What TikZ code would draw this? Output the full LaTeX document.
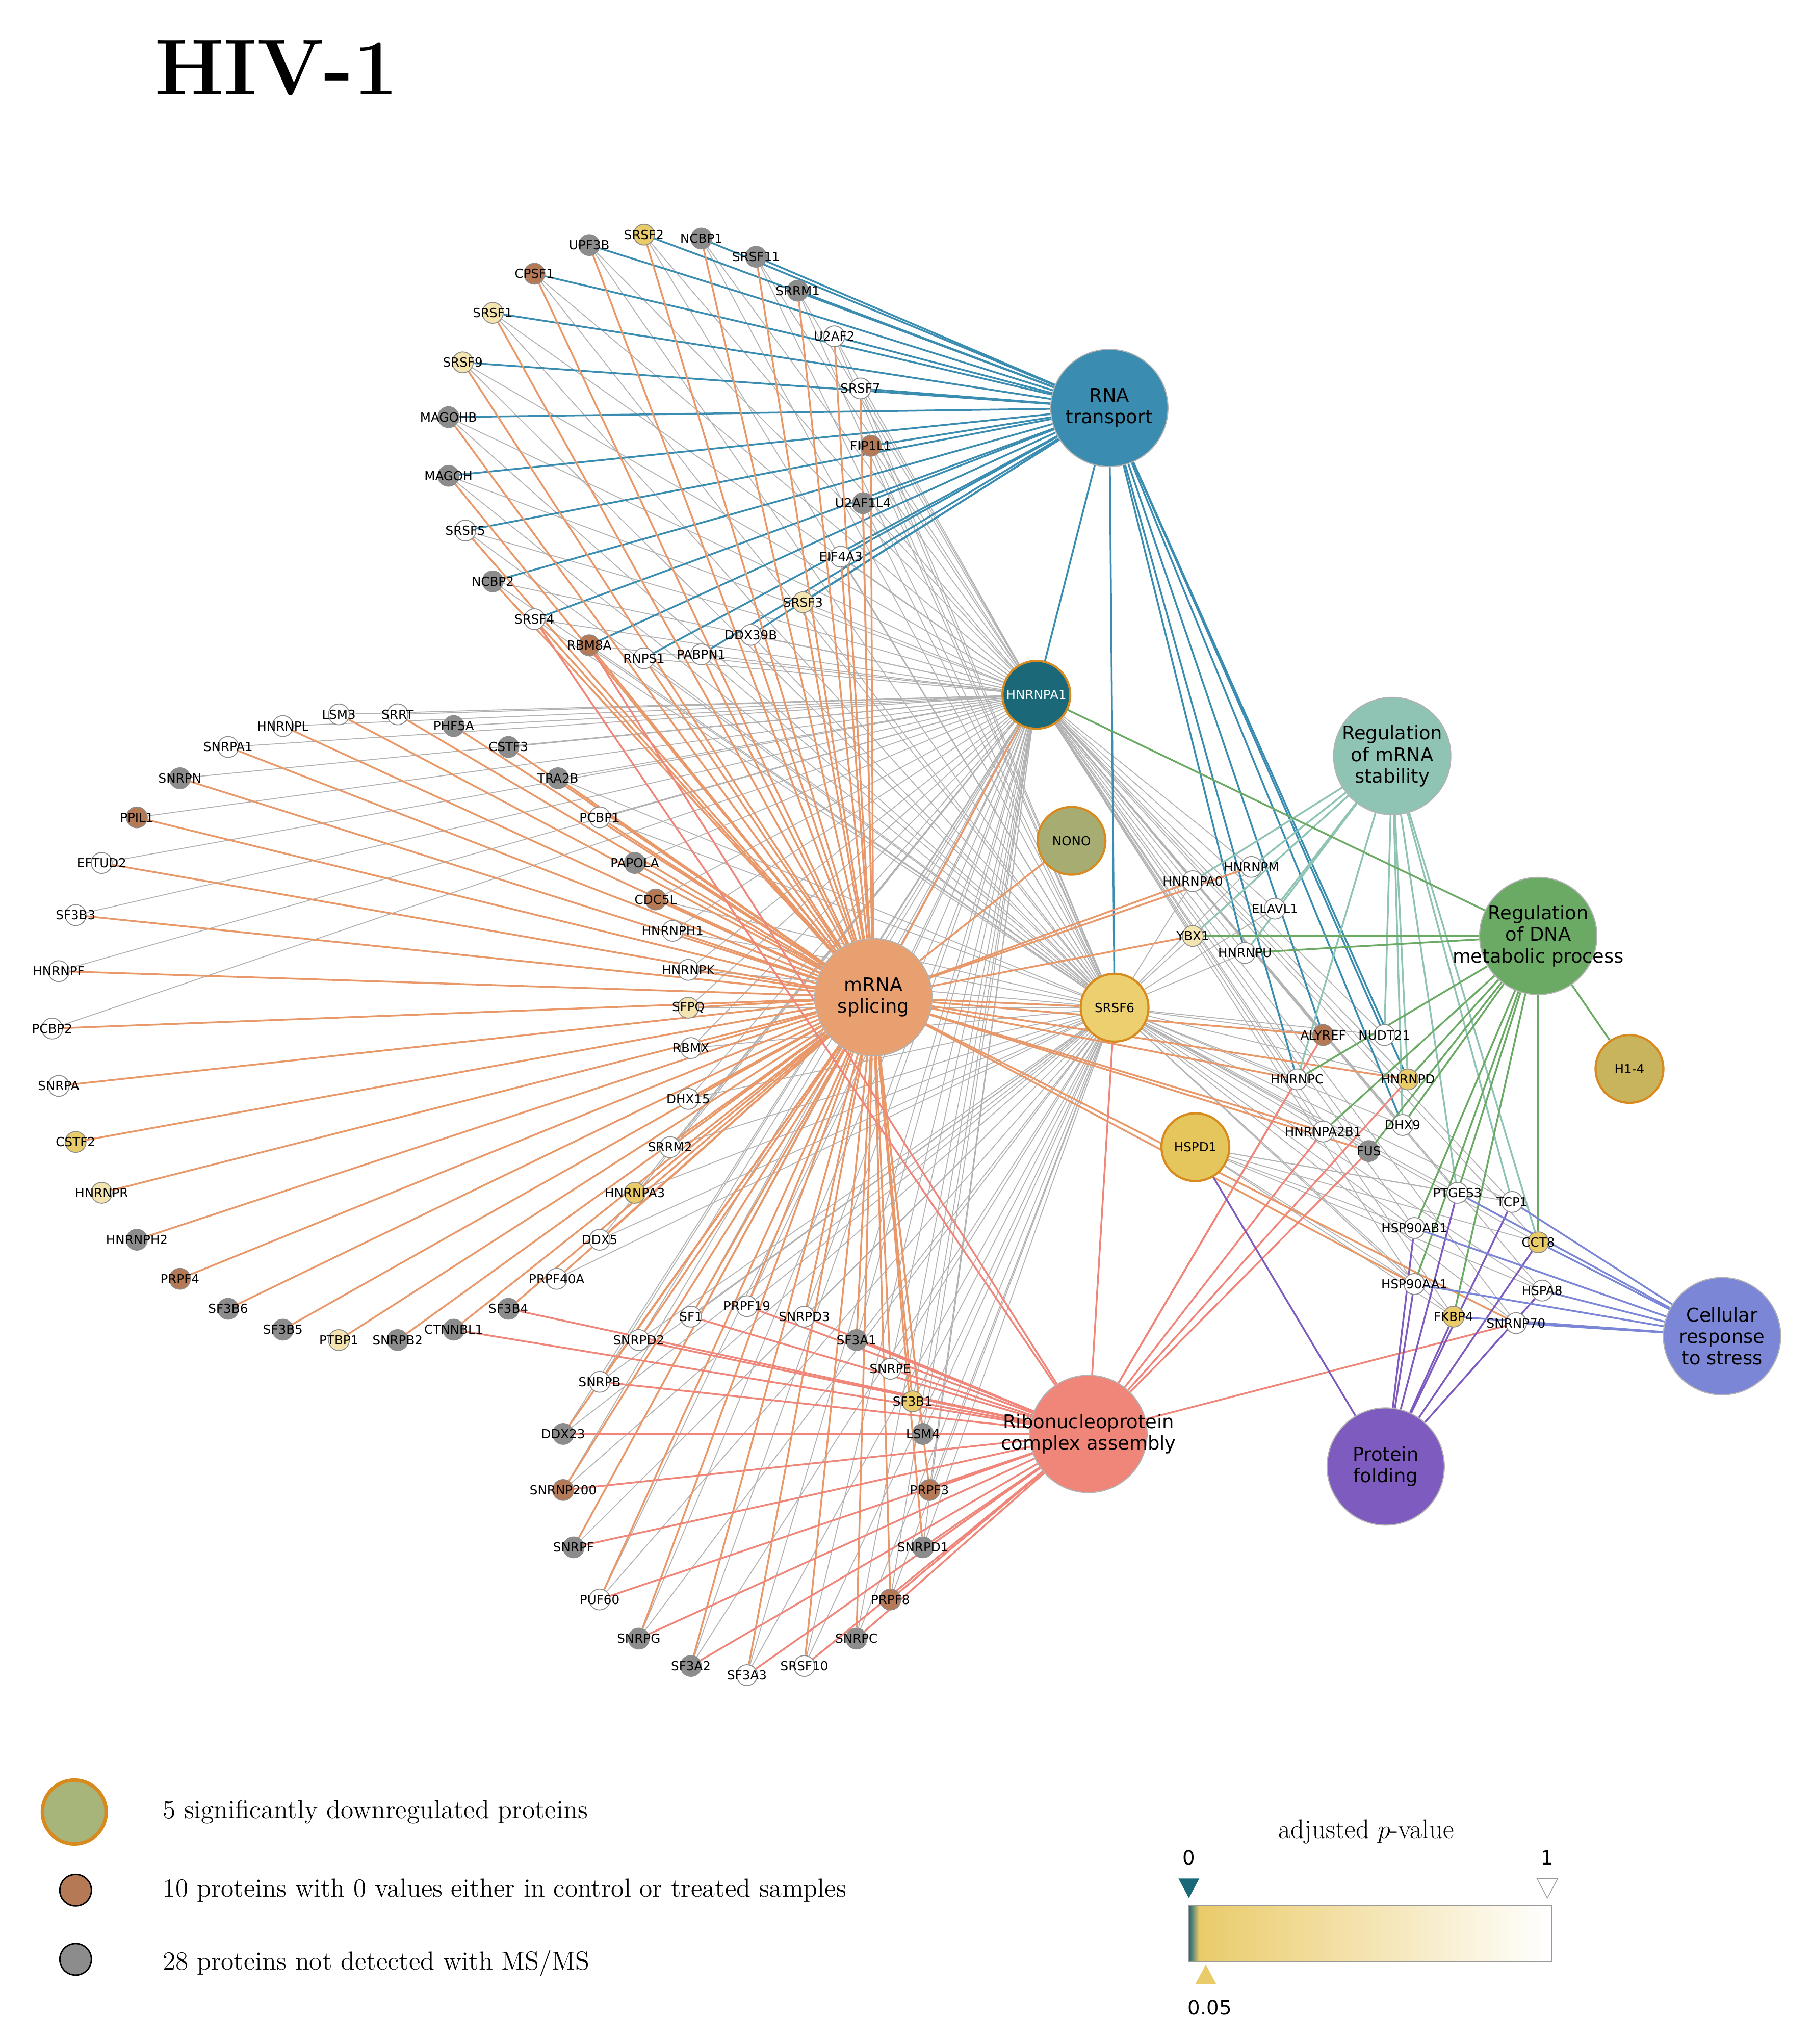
\documentclass[tikz,border=0pt]{standalone}
\usepackage{fontspec}
\newfontfamily\lab{DejaVu Sans}
\pgfdeclarelayer{bg}\pgfsetlayers{bg,main}
\definecolor{cW}{HTML}{FFFFFF}\definecolor{cP}{HTML}{F3E4B0}\definecolor{cY}{HTML}{EACB6A}
\definecolor{cB}{HTML}{B57A55}\definecolor{cG}{HTML}{8C8C8C}
\definecolor{hRNA}{HTML}{3A8DB0}\definecolor{hSPL}{HTML}{E8A070}\definecolor{hRNP}{HTML}{F0857A}
\definecolor{hSTB}{HTML}{8FC4B4}\definecolor{hDNA}{HTML}{6AAA64}\definecolor{hFLD}{HTML}{7E5BBF}
\definecolor{hSTR}{HTML}{7B86D6}\definecolor{ring}{HTML}{D98A1E}\definecolor{teal}{HTML}{1A6878}
\tikzset{
 sn/.style={circle,draw=black!45,line width=0.5pt,minimum size=0.41cm,inner sep=0pt},
 lb/.style={font=\lab\fontsize{7}{8}\selectfont,inner sep=0pt},
 hub/.style={circle,draw=black!30,line width=0.6pt,minimum size=2.3cm,inner sep=0pt,label={[align=center,inner sep=0pt,font=\lab\fontsize{10.5}{12}\selectfont]center:#1}},
 med/.style={circle,draw=ring,line width=1.2pt,minimum size=1.33cm,inner sep=0pt,font=\lab\fontsize{7}{8}\selectfont},
 eg/.style={draw=black!30,line width=0.5pt},
 eb/.style={draw=hRNA,line width=1pt},
 eo/.style={draw=hSPL!95!red,line width=1pt},
 er/.style={draw=hRNP,line width=1pt},
 est/.style={draw=hSTB,line width=1pt},
 ed/.style={draw=hDNA,line width=1pt},
 ef/.style={draw=hFLD,line width=1pt},
 es/.style={draw=hSTR,line width=1pt},
}
\begin{document}
\begin{tikzpicture}[x=0.02557cm,y=-0.02557cm]
\useasboundingbox (0,0) rectangle (1390,1568);
\node[font=\bfseries\fontsize{44}{50}\selectfont] (title) at (212,52) {HIV-1};
% hubs
\node[hub={RNA\\transport},fill=hRNA] (rna) at (851,313) {};
\node[hub={mRNA\\splicing},fill=hSPL] (spl) at (670,765) {};
\node[hub={Ribonucleoprotein\\complex assembly},fill=hRNP] (rnp) at (835,1100) {};
\node[hub={Regulation\\of mRNA\\stability},fill=hSTB] (stb) at (1068,580) {};
\node[hub={Regulation\\of DNA\\metabolic process},fill=hDNA] (dna) at (1180,718) {};
\node[hub={Protein\\folding},fill=hFLD] (fld) at (1063,1125) {};
\node[hub={Cellular\\response\\to stress},fill=hSTR] (str) at (1321,1025) {};
\node[med,fill=teal,text=white] (HNRNPA1) at (795,533) {HNRNPA1};
\node[med,fill={rgb,255:red,167;green,173;blue,114}] (NONO) at (822,645) {NONO};
\node[med,fill={rgb,255:red,236;green,208;blue,112}] (SRSF6) at (855,773) {SRSF6};
\node[med,fill={rgb,255:red,229;green,198;blue,92}] (HSPD1) at (917,880) {HSPD1};
\node[med,fill={rgb,255:red,200;green,180;blue,92}] (H14) at (1250,820) {H1-4};
% small nodes
\def\toparc{UPF3B/452/188/G,SRSF2/494/180/Y,NCBP1/538/183/G,SRSF11/580/197/G,SRRM1/612/223/G,U2AF2/640/258/W,SRSF7/660/298/W,FIP1L1/668/342/B,U2AF1L4/662/386/G,EIF4A3/645/427/W,SRSF3/616/462/P,DDX39B/576/487/W,PABPN1/538/502/W,RNPS1/494/505/W,RBM8A/452/495/B,SRSF4/410/475/W,NCBP2/378/446/G,SRSF5/357/407/W,MAGOH/344/365/G,MAGOHB/344/320/G,SRSF9/355/278/P,SRSF1/378/240/P,CPSF1/410/210/B}
\def\leftarc{LSM3/260/548/W,SRRT/305/548/W,PHF5A/348/557/G,CSTF3/390/573/G,TRA2B/428/597/G,PCBP1/460/627/W,PAPOLA/487/662/G,CDC5L/503/690/B,HNRNPH1/516/714/W,HNRNPK/528/744/W,SFPQ/528/773/P,RBMX/530/804/W,DHX15/528/843/W,SRRM2/514/880/W,HNRNPA3/487/915/Y,DDX5/460/951/W,PRPF40A/427/981/W,SF3B4/390/1004/G,CTNNBL1/348/1020/G,SNRPB2/305/1028/G,PTBP1/260/1028/P,SF3B5/217/1020/G,SF3B6/175/1004/G,PRPF4/138/981/B,HNRNPH2/105/951/G,HNRNPR/78/915/P,CSTF2/58/876/Y,SNRPA/45/833/W,PCBP2/40/789/W,HNRNPF/45/745/W,SF3B3/58/702/W,EFTUD2/78/662/W,PPIL1/105/627/B,SNRPN/138/597/G,SNRPA1/175/573/W,HNRNPL/217/557/W}
\def\botarc{SF1/530/1010/W,PRPF19/573/1002/W,SNRPD3/617/1010/W,SF3A1/657/1028/G,SNRPE/683/1050/W,SF3B1/700/1075/Y,LSM4/708/1100/G,PRPF3/713/1143/B,SNRPD1/708/1187/G,PRPF8/683/1227/B,SNRPC/657/1257/G,SRSF10/617/1278/W,SF3A3/573/1285/W,SF3A2/530/1278/G,SNRPG/490/1257/G,PUF60/460/1227/W,SNRPF/440/1187/G,SNRNP200/432/1143/B,DDX23/432/1100/G,SNRPB/460/1060/W,SNRPD2/490/1028/W}
\def\rightc{HNRNPM/960/665/W,HNRNPA0/915/676/W,ELAVL1/978/697/W,YBX1/915/718/P,HNRNPU/955/731/W,ALYREF/1015/794/B,NUDT21/1062/794/W,HNRNPC/995/828/W,HNRNPD/1080/828/Y,HNRNPA2B1/1015/868/W,DHX9/1076/863/W,FUS/1050/883/G,PTGES3/1118/915/W,TCP1/1160/922/W,HSP90AB1/1085/942/W,CCT8/1180/953/Y,HSP90AA1/1085/985/W,HSPA8/1183/990/W,FKBP4/1115/1010/Y,SNRNP70/1163/1015/W}
\edef\allnodes{\toparc,\leftarc,\botarc,\rightc}
\edef\grayset{\toparc,\rightc,\botarc}
\edef\splset{\toparc,\leftarc,\botarc}
\foreach \n/\x/\y/\c in \allnodes {
  \node[sn,fill=c\c,label={[lb]center:\n}] (\n) at (\x,\y) {};
}
\begin{pgfonlayer}{bg}
% gray interactions
\foreach \n/\x/\y/\c in \grayset {\draw[eg] (HNRNPA1) -- (\n); \draw[eg] (SRSF6) -- (\n);}
\foreach \t in {LSM3,SRRT,PHF5A,CSTF3,TRA2B,PCBP1,PAPOLA,CDC5L,HNRNPH1,HNRNPK,SFPQ,RBMX,DHX15,SRRM2,HNRNPA3,DDX5,HNRNPL,SNRPA1,SNRPN,PPIL1,EFTUD2,SF3B3,HNRNPF,PCBP2} {\draw[eg] (HNRNPA1) -- (\t);}
\foreach \t in {SFPQ,RBMX,HNRNPK,HNRNPH1,DHX15,SRRM2,HNRNPA3,DDX5,PRPF40A,CDC5L,PCBP1,TRA2B} {\draw[eg] (SRSF6) -- (\t);}
\foreach \t in {HSP90AB1,HSP90AA1,HSPA8,CCT8,TCP1,PTGES3,FKBP4} {\draw[eg] (HSPD1) -- (\t);}
% RNA transport
\foreach \n/\x/\y/\c in \toparc {\draw[eb] (rna) -- (\n);}
\foreach \t in {HNRNPA1,SRSF6,HNRNPU,ALYREF,NUDT21,HNRNPD,DHX9,HNRNPC} {\draw[eb] (rna) -- (\t);}
% mRNA splicing
\foreach \n/\x/\y/\c in \splset {\draw[eo] (spl) -- (\n);}
\foreach \t in {HNRNPA1,SRSF6,NONO,HNRNPA0,HNRNPM,YBX1,ALYREF,HNRNPC,HNRNPA2B1,FUS,HNRNPD,SNRNP70,HSP90AA1} {\draw[eo] (spl) -- (\t);}
% RNP assembly
\foreach \n/\x/\y/\c in \botarc {\draw[er] (rnp) -- (\n);}
\foreach \t in {RBM8A,SRSF4,SRSF6,HNRNPA2B1,HNRNPC,HNRNPD,SNRNP70,FUS,ALYREF,SF3B4,CTNNBL1} {\draw[er] (rnp) -- (\t);}
% stability
\foreach \t in {HNRNPA0,HNRNPM,YBX1,HNRNPU,ELAVL1,HNRNPC,NUDT21,HNRNPD,DHX9,PTGES3,TCP1,CCT8} {\draw[est] (stb) -- (\t);}
% DNA metabolic
\foreach \t in {HNRNPA1,HNRNPU,YBX1,HNRNPA2B1,HNRNPC,HNRNPD,FUS,DHX9,PTGES3,HSP90AB1,HSP90AA1,CCT8,FKBP4,H14} {\draw[ed] (dna) -- (\t);}
% folding / stress
\foreach \t in {HSPD1,PTGES3,TCP1,HSP90AB1,HSP90AA1,CCT8,HSPA8,FKBP4} {\draw[ef] (fld) -- (\t);}
\foreach \t in {PTGES3,TCP1,HSP90AB1,HSP90AA1,CCT8,HSPA8,FKBP4,SNRNP70} {\draw[es] (str) -- (\t);}
\end{pgfonlayer}
% legend
\node[circle,draw=ring,line width=2pt,fill={rgb,255:red,168;green,181;blue,122},minimum size=1.25cm] (lg1) at (57,1390) {};
\node[circle,draw=black,line width=0.8pt,fill=cB,minimum size=0.62cm] (lg2) at (58,1450) {};
\node[circle,draw=black,line width=0.8pt,fill=cG,minimum size=0.62cm] (lg3) at (58,1503) {};
\node[anchor=west,font=\fontsize{14.6}{17}\selectfont] (t1) at (120,1390) {5 significantly downregulated proteins};
\node[anchor=west,font=\fontsize{14.6}{17}\selectfont] (t2) at (120,1450) {10 proteins with 0 values either in control or treated samples};
\node[anchor=west,font=\fontsize{14.6}{17}\selectfont] (t3) at (120,1506) {28 proteins not detected with MS/MS};
\node[font=\fontsize{15}{17}\selectfont] (cbt) at (1048,1405) {adjusted $p$-value};
\shade[left color=teal,right color=cY] (912,1462) rectangle (920,1505);
\shade[left color=cY,right color=white] (920,1462) rectangle (1190,1505);
\draw[black!40,line width=0.6pt] (912,1462) rectangle (1190,1505);
\node[font=\lab\fontsize{11}{12}\selectfont] (c0) at (912,1425) {0};
\node[font=\lab\fontsize{11}{12}\selectfont] (c1) at (1187,1425) {1};
\node[font=\lab\fontsize{11}{12}\selectfont] (c5) at (928,1540) {0.05};
\fill[teal] (904,1441) -- (920,1441) -- (912,1456) -- cycle;
\draw[black!40,fill=white] (1179,1441) -- (1195,1441) -- (1187,1456) -- cycle;
\fill[cY] (917,1522) -- (933,1522) -- (925,1507) -- cycle;
\end{tikzpicture}
\end{document}
